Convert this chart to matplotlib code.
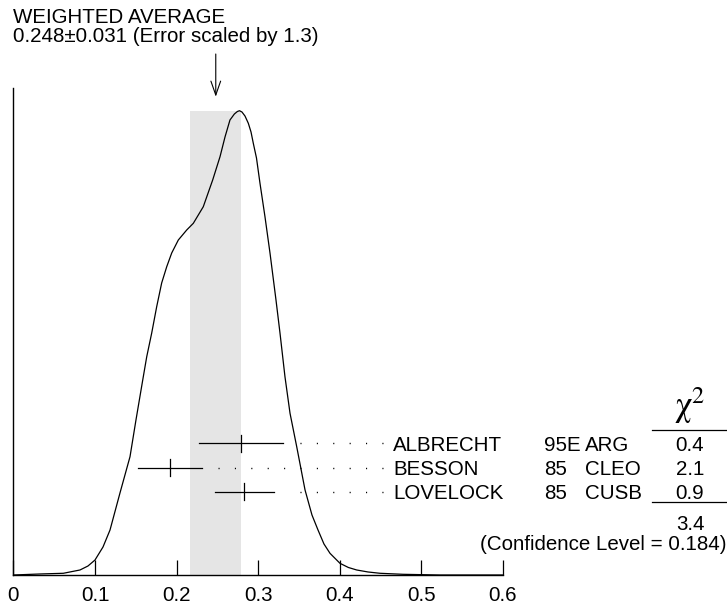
import matplotlib
matplotlib.use('Agg')
import matplotlib.pyplot as plt
from matplotlib.lines import Line2D
import matplotlib.transforms as mtransforms

plt.rcParams['font.family'] = ['Liberation Sans', 'DejaVu Sans']
plt.rcParams['mathtext.fontset'] = 'stix'

W, H = 727, 609
FS = 14.8

# weighted average and its (scaled) error
avg, avg_err = 0.248, 0.031

# measurements
names = ['ALBRECHT', 'BESSON', 'LOVELOCK']
years = ['95E', '85', '85']
expts = ['ARG', 'CLEO', 'CUSB']
values = [0.279, 0.192, 0.283]
errors = [0.051, 0.039, 0.036]
chi2 = ['0.4', '2.1', '0.9']
chi2_total = '3.4'
conf_level = '0.184'

# ideogram curve (height relative to peak)
curve_x = [0.0, 0.0326, 0.0612, 0.0816, 0.0914, 0.1000, 0.1098, 0.1184,
           0.1306, 0.1429, 0.1502, 0.1585, 0.1634, 0.1695, 0.1756, 0.1817,
           0.1879, 0.1940, 0.2021, 0.2124, 0.2205, 0.2327, 0.2442, 0.2532,
           0.2593, 0.2654, 0.2708, 0.2745, 0.2771, 0.2801, 0.2838, 0.2879,
           0.2912, 0.2940, 0.2979, 0.3022, 0.3083, 0.3145, 0.3218, 0.3267,
           0.3328, 0.3390, 0.3472, 0.3574, 0.3659, 0.3733, 0.3806, 0.3880,
           0.4002, 0.4105, 0.4207, 0.4346, 0.4493, 0.4775, 0.5227, 0.6]
curve_y = [0.0, 0.0022, 0.0037, 0.0108, 0.0194, 0.0323, 0.0603, 0.0969,
           0.1766, 0.2548, 0.3338, 0.4200, 0.4702, 0.5212, 0.5779, 0.6289,
           0.6640, 0.6935, 0.7215, 0.7431, 0.7575, 0.7932, 0.8507, 0.9009,
           0.9433, 0.9800, 0.9929, 0.9983, 1.0, 0.9972, 0.9886, 0.9729,
           0.9541, 0.9298, 0.8981, 0.8436, 0.7717, 0.6929, 0.5923, 0.5212,
           0.4271, 0.3483, 0.2763, 0.1831, 0.1292, 0.0969, 0.0668, 0.0467,
           0.0252, 0.0162, 0.0108, 0.0065, 0.0037, 0.0015, 0.0, 0.0]

xticks = [0, 0.1, 0.2, 0.3, 0.4, 0.5, 0.6]
xtick_labels = ['0', '0.1', '0.2', '0.3', '0.4', '0.5', '0.6']


def fp(x, y):
    # pixel position (from top-left) -> figure fraction
    return x / W, 1 - y / H


fig = plt.figure(figsize=(W / 100, H / 100), dpi=100)
ax = fig.add_axes([13.4 / W, 34 / H, 489.6 / W, 487 / H])
ax.set_xlim(0, 0.6)
ax.set_ylim(0, 1.0489)

ax.fill_between([avg - avg_err, avg + avg_err], 0, 1.0,
                color='#e5e5e5', lw=0, zorder=1)
ax.plot(curve_x, curve_y, color='black', lw=0.9, zorder=3)

# measurement crosses and dotted leaders (rows in axes fraction)
trans = mtransforms.blended_transform_factory(ax.transData, ax.transAxes)
rows = [0.2704, 0.2203, 0.1710]
for v, e, r in zip(values, errors, rows):
    ax.plot([v - e, v + e], [r, r], color='black', lw=0.9,
            transform=trans, zorder=4)
    ax.plot([v, v], [r - 0.017, r + 0.017], color='black', lw=0.9,
            transform=trans, zorder=4)
    ax.plot([0.453, v + e + 0.015], [r, r], color='black', lw=1.0,
            linestyle=(0, (0.8, 11.0)), transform=trans, clip_on=False,
            zorder=4)

ax.annotate('', xy=(avg, H - 96.7), xycoords=('data', 'figure pixels'),
            xytext=(avg, H - 54), textcoords=('data', 'figure pixels'),
            arrowprops=dict(arrowstyle='->,head_length=1.0,head_width=0.35',
                            lw=0.8, mutation_scale=10, shrinkA=0, shrinkB=0,
                            color='black'))

for s in ['top', 'right']:
    ax.spines[s].set_visible(False)
for s in ['left', 'bottom']:
    ax.spines[s].set_linewidth(1.0)
ax.set_yticks([])
ax.set_xticks(xticks)
ax.set_xticklabels(xtick_labels, fontsize=FS)
ax.tick_params(axis='x', direction='in', length=10.8, width=0.9, pad=8)

# text block
fig.text(*fp(13, 22.7), 'WEIGHTED AVERAGE', fontsize=FS, va='baseline')
fig.text(*fp(13, 41.7), f'{avg:.3f}\u00b1{avg_err:.3f} (Error scaled by 1.3)',
         fontsize=FS, va='baseline')

baselines = [450.7, 474.7, 498.7]
for i, b in enumerate(baselines):
    fig.text(*fp(393, b), names[i], fontsize=FS, va='baseline')
    fig.text(*fp(544, b), years[i], fontsize=FS, va='baseline')
    fig.text(*fp(585, b), expts[i], fontsize=FS, va='baseline')
    fig.text(*fp(690, b), chi2[i], fontsize=FS, va='baseline', ha='center')

fig.text(*fp(690, 416), r'$\mathrm{\chi}^{2}$', fontsize=25, va='baseline',
         ha='center')
fig.text(*fp(690, 530), chi2_total, fontsize=FS, va='baseline', ha='center')
fig.text(*fp(726, 550), f'(Confidence Level = {conf_level})', fontsize=FS,
         va='baseline', ha='right')

for y in [430, 501.7]:
    fig.add_artist(Line2D([651.7 / W, 1.0], [1 - y / H, 1 - y / H],
                          color='black', lw=0.9))

fig.savefig('out.png', dpi=100)
